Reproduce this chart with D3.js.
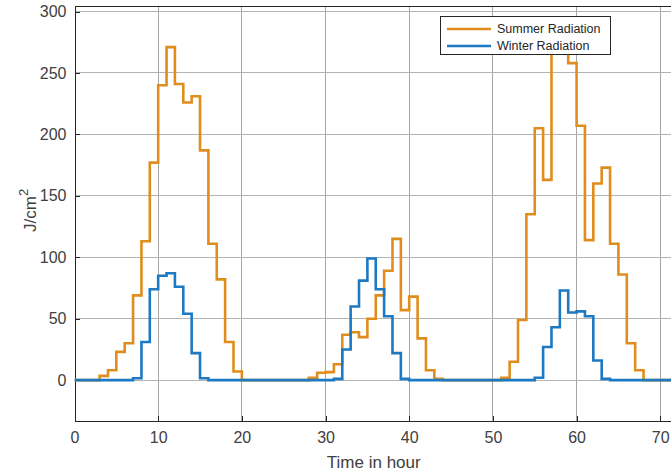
<!DOCTYPE html>
<html>
<head>
<meta charset="utf-8">
<script src="https://cdn.jsdelivr.net/npm/d3@7"></script>
<style>
  body { margin: 0; background: #fff; }
  svg { display: block; }
  text { font-family: "Liberation Sans", Arial, sans-serif; }
</style>
</head>
<body>
<div id="chart"></div>
<script>
// Hourly values, hour 0 .. 71
const hours = d3.range(0, 72);
const summerRadiation = [
  0, 0, 0, 3.5, 8, 23, 30, 69, 113, 177, 240, 271, 241, 226, 231, 187, 111, 82, 31, 7,
  0, 0, 0, 0, 0, 0, 0, 0, 2, 6, 6.5, 13, 37, 39, 35, 50, 69, 89, 115, 57,
  68, 34, 8, 1, 0, 0, 0, 0, 0, 0, 0, 2, 15, 49, 135, 205, 163, 285, 275, 258,
  207, 114, 160, 173, 111, 86, 30, 8, 0, 0, 0, 0
];
const winterRadiation = [
  0, 0, 0, 0, 0, 0, 0, 1.5, 31, 74, 85, 87, 76, 54, 22, 1.5, 0, 0, 0, 0,
  0, 0, 0, 0, 0, 0, 0, 0, 0, 0, 0, 1, 25, 60, 81, 99, 74, 52, 22, 1,
  0, 0, 0, 0, 0, 0, 0, 0, 0, 0, 0, 0, 0, 0, 0, 2, 27, 43, 73, 55,
  56, 52, 16, 1, 0, 0, 0, 0, 0, 0, 0, 0
];
const seriesNames = ["Summer Radiation", "Winter Radiation"];
const seriesColors = ["#E08D1E", "#1C79C2"];
const xTicks = [0, 10, 20, 30, 40, 50, 60, 70];
const yTicks = [0, 50, 100, 150, 200, 250, 300];
const xDomain = [0, 72];
const yDomain = [-33, 304.5];

(function () {
const W = 671, H = 475;
const mLeft = 74.5, mRight = 677, mTop = 6, mBottom = 420.7;

const svg = d3.select("#chart").append("svg")
  .attr("width", W).attr("height", H);

const x = d3.scaleLinear().domain(xDomain).range([mLeft, mRight]);
const y = d3.scaleLinear().domain(yDomain).range([mBottom, mTop]);

svg.append("defs").append("clipPath").attr("id", "clip")
  .append("rect").attr("x", mLeft).attr("y", mTop)
  .attr("width", mRight - mLeft).attr("height", mBottom - mTop);

// grid
const grid = svg.append("g");
grid.selectAll("line.vx").data(xTicks.filter(d => d > 0)).join("line")
  .attr("class", "vx")
  .attr("x1", d => x(d)).attr("x2", d => x(d))
  .attr("y1", mTop).attr("y2", mBottom)
  .attr("stroke", "#a6a6a6").attr("stroke-width", 1).attr("shape-rendering", "crispEdges");
grid.selectAll("line.hy").data(yTicks).join("line")
  .attr("class", "hy")
  .attr("x1", mLeft).attr("x2", mRight)
  .attr("y1", d => y(d)).attr("y2", d => y(d))
  .attr("stroke", "#b4b4b4").attr("stroke-width", 1).attr("shape-rendering", "crispEdges");

// axes
const xAxis = d3.axisBottom(x).tickValues(xTicks).tickSize(-5).tickPadding(11).tickSizeOuter(0);
const yAxis = d3.axisLeft(y).tickValues(yTicks).tickSize(-5).tickPadding(8).tickSizeOuter(0);

const gx = svg.append("g").attr("transform", `translate(0,${mBottom})`).call(xAxis);
const gy = svg.append("g").attr("transform", `translate(${mLeft},0)`).call(yAxis);
[gx, gy].forEach(g => {
  g.select(".domain").attr("stroke", "#262626").attr("shape-rendering", "crispEdges");
  g.selectAll(".tick line").attr("stroke", "#262626").attr("shape-rendering", "crispEdges");
  g.selectAll(".tick text").attr("fill", "#404040").style("font-size", "16px");
});
gx.selectAll(".tick text").attr("dy", "0.71em");

// top border
svg.append("line").attr("x1", mLeft).attr("x2", mRight).attr("y1", mTop).attr("y2", mTop)
  .attr("stroke", "#262626").attr("shape-rendering", "crispEdges");

// lines
const line = d3.line()
  .x(d => x(d[0])).y(d => y(d[1]))
  .curve(d3.curveStepAfter);

const allSeries = [summerRadiation, winterRadiation];
const plot = svg.append("g").attr("clip-path", "url(#clip)");
allSeries.forEach((vals, i) => {
  const pts = hours.map((h, k) => [h, vals[k]]);
  pts.push([72, vals[vals.length - 1]]);
  plot.append("path").datum(pts)
    .attr("d", line)
    .attr("fill", "none")
    .attr("stroke", seriesColors[i])
    .attr("stroke-width", 2.6)
    .attr("stroke-linejoin", "miter");
});

// axis titles
svg.append("text")
  .attr("x", (x(0) + x(72)) / 2 - 2).attr("y", 468)
  .attr("text-anchor", "middle").attr("fill", "#404040")
  .style("font-size", "17px").text("Time in hour");

const yl = svg.append("text")
  .attr("transform", `translate(36,${(mTop + mBottom) / 2 - 3}) rotate(-90)`)
  .attr("text-anchor", "middle").attr("fill", "#404040")
  .style("font-size", "17px");
yl.append("tspan").text("J/cm");
yl.append("tspan").attr("dy", "-0.6em").style("font-size", "13px").text("2");

// legend
const lg = svg.append("g");
lg.append("rect").attr("x", 440.5).attr("y", 16.5).attr("width", 170).attr("height", 38)
  .attr("fill", "#fff").attr("stroke", "#262626").attr("stroke-width", 1);
seriesNames.forEach((name, i) => {
  const ly = 29 + i * 17;
  lg.append("line").attr("x1", 447).attr("x2", 491).attr("y1", ly).attr("y2", ly)
    .attr("stroke", seriesColors[i]).attr("stroke-width", 2.6);
  lg.append("text").attr("x", 497).attr("y", ly).attr("dy", "0.35em")
    .attr("fill", "#262626").style("font-size", "12.5px").text(name);
});
})();
</script>
</body>
</html>
